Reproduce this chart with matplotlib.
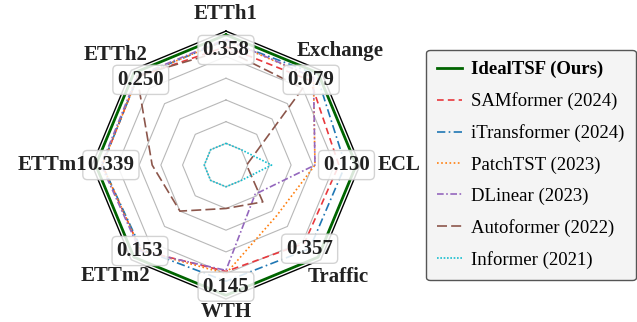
import matplotlib.pyplot as plt
import numpy as np

plt.rcParams['font.family'] = ['Liberation Serif', 'DejaVu Serif']

datasets = ['ETTh1', 'Exchange', 'ECL', 'Traffic', 'WTH', 'ETTm2', 'ETTm1', 'ETTh2']
ours_mse = [0.358, 0.079, 0.130, 0.357, 0.145, 0.153, 0.339, 0.250]

# normalised scores (outer ring = best)
idealtsf = [6.0, 6.0, 6.0, 6.0, 6.0, 6.0, 6.0, 6.0]
samformer = [5.45, 5.5, 5.2, 5.1, 4.9, 5.55, 5.7, 5.75]
itransformer = [5.75, 5.9, 5.5, 5.45, 5.35, 5.5, 5.7, 5.75]
patchtst = [5.75, 5.7, 4.1, 3.3, 5.0, 5.55, 5.7, 5.75]
dlinear = [5.8, 5.7, 4.1, 1.9, 4.85, 5.6, 5.75, 5.8]
autoformer = [5.3, 5.0, 0.95, 2.4, 2.0, 3.0, 3.4, 5.8]
informer = [1.0, 1.0, 2.1, 1.0, 1.0, 1.0, 1.0, 1.0]

rings = [1, 2, 3, 4, 5]
rmax = 6.17

series = [
    ('IdealTSF (Ours)', idealtsf, dict(color='#006400', lw=2.0, ls='-')),
    ('SAMformer (2024)', samformer, dict(color='#e8383d', lw=1.2, ls=(0, (4, 2.5)))),
    ('iTransformer (2024)', itransformer, dict(color='#1f77b4', lw=1.2, ls=(0, (5, 2, 1, 2)))),
    ('PatchTST (2023)', patchtst, dict(color='#ff7f0e', lw=1.2, ls=(0, (1, 1.5)))),
    ('DLinear (2023)', dlinear, dict(color='#9467bd', lw=1.2, ls=(0, (4, 1.5, 1, 1.5)))),
    ('Autoformer (2022)', autoformer, dict(color='#8c564b', lw=1.2, ls=(0, (6, 2.5)))),
    ('Informer (2021)', informer, dict(color='#17becf', lw=1.2, ls=(0, (1, 1)))),
]

n = len(datasets)
angles = np.arange(n) * 2 * np.pi / n
closed = np.append(angles, angles[0])

fig = plt.figure(figsize=(6.37, 3.22), dpi=100)
ax = fig.add_axes([0.1444, 0.0714, 0.4207, 0.832], projection='polar')
ax.set_theta_offset(np.pi / 2)
ax.set_theta_direction(-1)
ax.set_ylim(0, rmax)
ax.spines['polar'].set_visible(False)
ax.grid(False)
ax.set_xticks([])
ax.set_yticks([])
ax.patch.set_alpha(0)

for r in rings:
    ax.plot(closed, [r] * (n + 1), color='#b8b8b8', lw=0.8, zorder=1)
ax.plot(closed, [rmax] * (n + 1), color='black', lw=1.0, zorder=1, clip_on=False)

handles = []
for name, vals, st in series:
    h, = ax.plot(closed, vals + vals[:1], label=name, zorder=3, clip_on=False, **st)
    handles.append(h)

# value labels for IdealTSF
val_r = [5.3, 5.55, 5.55, 5.45, 5.6, 5.6, 5.3, 5.55]
for a, v, r in zip(angles, ours_mse, val_r):
    ax.text(a, r, f'{v:.3f}', ha='center', va='center', fontsize=15,
            fontweight='bold', color='#222222', zorder=5,
            bbox=dict(boxstyle='round,pad=0.22', fc='white', ec='#cccccc',
                      lw=1.0, alpha=0.85))

# dataset names around the frame
name_r = [6.95, 7.45, 7.95, 7.3, 6.75, 7.2, 6.4, 7.2]
name_ha = ['center', 'center', 'center', 'center', 'center', 'center', 'right', 'center']
for a, name, r, ha in zip(angles, datasets, name_r, name_ha):
    ax.text(a, r, name, ha=ha, va='center', fontsize=15,
            fontweight='bold', color='#222222', clip_on=False, zorder=6)

leg = fig.legend(handles=handles, loc='center', bbox_to_anchor=(0.8336, 0.4876),
                 fontsize=13.5, frameon=True, fancybox=True, handlelength=1.3,
                 labelspacing=0.75, borderpad=0.6, handletextpad=0.5,
                 borderaxespad=0.3)
leg.get_frame().set_facecolor('#f4f4f4')
leg.get_frame().set_edgecolor('#555555')
leg.get_frame().set_alpha(1)
leg.get_texts()[0].set_fontweight('bold')

fig.savefig('out.png', dpi=100)
